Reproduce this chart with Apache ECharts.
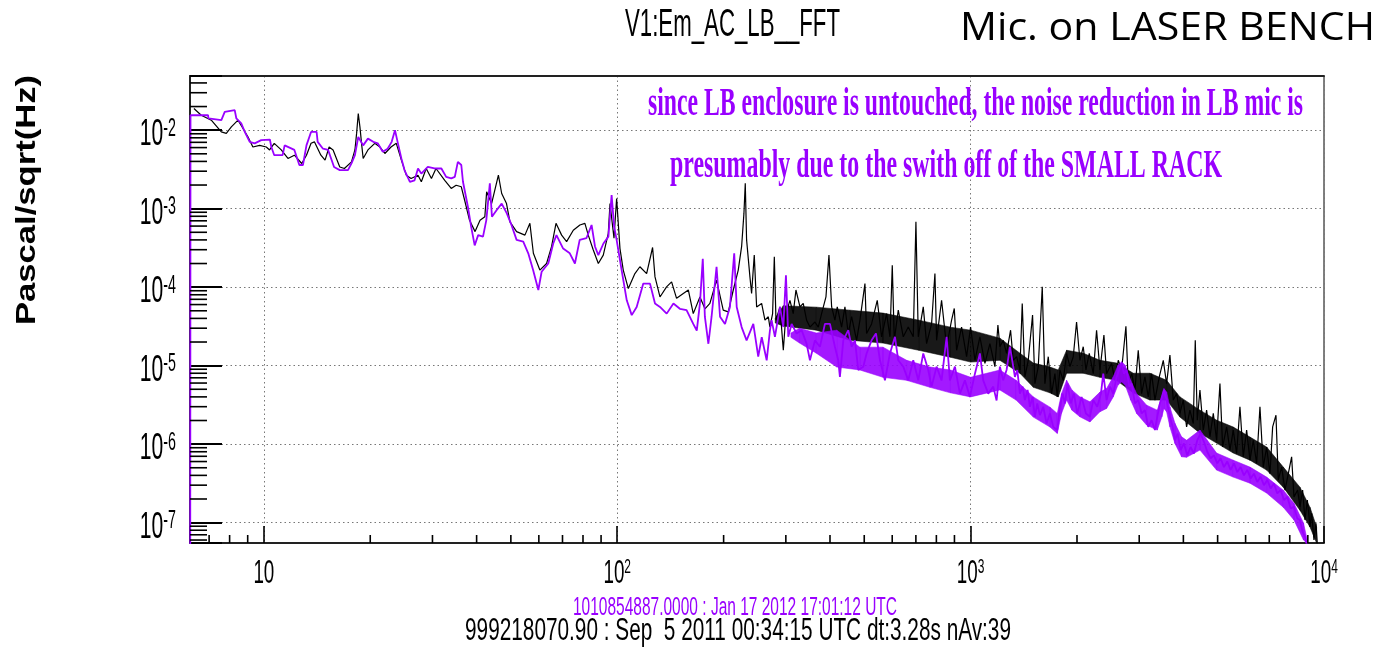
<!DOCTYPE html>
<html>
<head>
    <meta charset="utf-8"/>
    <title>V1:Em_AC_LB__FFT</title>
    <style>
        html, body { margin: 0; padding: 0; background: #fff; }
        #chart { width: 1387px; height: 652px; }
    </style>
</head>
<body>
<div id="chart"></div>
<script src="https://cdn.jsdelivr.net/npm/echarts@6/dist/echarts.min.js"></script>
<script>
    // axis ranges (Hz, Pascal/sqrt(Hz))
    var X_MIN = 6.18, X_MAX = 10000;
    var Y_MIN = 5.5e-8, Y_MAX = 4.9e-2;

    // decade labels
    var xDecades = [10, 100, 1000, 10000];
    var xDecadeExp = ['', '2', '3', '4'];
    var yDecades = [1e-7, 1e-6, 1e-5, 1e-4, 1e-3, 1e-2];
    var yDecadeExp = ['-7', '-6', '-5', '-4', '-3', '-2'];

    // ROOT style minor ticks
    var xMinorTicks = [7, 8, 9, 20, 30, 40, 50, 60, 70, 80, 90, 200, 300, 400, 500, 600, 700, 800, 900,
        2000, 3000, 4000, 5000, 6000, 7000, 8000, 9000];
    var yMinorTicks = [6e-8, 7e-8, 8e-8, 9e-8,
        2e-7, 3e-7, 4e-7, 5e-7, 6e-7, 7e-7, 8e-7, 9e-7,
        2e-6, 3e-6, 4e-6, 5e-6, 6e-6, 7e-6, 8e-6, 9e-6,
        2e-5, 3e-5, 4e-5, 5e-5, 6e-5, 7e-5, 8e-5, 9e-5,
        2e-4, 3e-4, 4e-4, 5e-4, 6e-4, 7e-4, 8e-4, 9e-4,
        2e-3, 3e-3, 4e-3, 5e-3, 6e-3, 7e-3, 8e-3, 9e-3,
        2e-2, 3e-2, 4e-2];

    // black trace: 999218070.90 (Sep 5 2011)
    var blackLow = [[6.34,1.89e-2],[6.65,1.55e-2],[7.10,1.34e-2],[7.58,9.5e-3],[7.83,9.1e-3],[8.09,1.10e-2],
        [8.45,1.34e-2],[8.73,1.05e-2],[9.02,8.2e-3],[9.31,6.1e-3],[9.73,6.4e-3],[10.16,6.1e-3],[10.38,5.6e-3],
        [10.7,6.8e-3],[11.2,5.6e-3],[11.7,4.36e-3],[12.2,4.8e-3],[12.8,3.76e-3],[13.2,4.8e-3],[13.6,6.8e-3],
        [13.9,7.1e-3],[14.5,4.8e-3],[14.9,4.15e-3],[15.3,6.1e-3],[15.7,5.6e-3],[16.4,3.4e-3],[16.9,3.25e-3],
        [17.7,3.95e-3],[18.1,5.6e-3],[18.3,9.1e-3],[18.5,1.63e-2],[18.7,1.10e-2],[18.9,6.8e-3],[19.1,4.36e-3],
        [19.7,5.6e-3],[20.6,6.8e-3],[21.3,6.1e-3],[22.0,5.05e-3],[22.9,6.1e-3],[23.7,6.8e-3],[24.5,4.15e-3],
        [25.3,2.67e-3],[26.1,2.42e-3],[27.3,2.67e-3],[27.9,2.2e-3],[28.8,3.25e-3],[29.8,2.42e-3],[30.7,3.25e-3],
        [32.5,2.3e-3],[33.9,1.81e-3],[35.0,1.99e-3],[36.2,1.9e-3],[37.0,1.28e-3],[38.2,7.1e-4]];
    var blackMid = [[39.6,5.1e-4],[40.9,7.1e-4],[42.2,7.9e-4],[42.7,1.64e-3],[44.1,1.16e-3],[46.1,2.67e-3],
        [47.1,1.56e-3],[48.6,1.16e-3],[49.7,6.8e-4],[51.9,5.1e-4],[54.8,4.6e-4],[56.6,6.5e-4],[57.9,2.7e-4],
        [60.4,1.65e-4],[63.1,2.0e-4],[65.2,3.3e-4],[67.1,6.5e-4],[69.6,4.6e-4],[71.9,3.8e-4],[75.1,5.3e-4],
        [78.4,6.2e-4],[81.0,6.5e-4],[82.8,4.6e-4],[85.5,3.0e-4],[88.4,2.0e-4],[91.3,2.56e-4],[94.3,4.8e-4],
        [95.4,1.16e-3],[97.9,4.2e-4],[99.6,1.35e-3],[101.8,3.1e-4],[104.0,1.65e-4],[107.5,9.6e-5],[112.2,1.49e-4],
        [115.9,1.82e-4],[121.1,1.49e-4],[125.9,3.2e-4],[127.9,1.35e-4],[132.1,7.5e-5],[137.9,1.01e-4],
        [142.5,1.17e-4],[147.2,7.2e-5],[153.8,8.3e-5],[158.9,9.2e-5],[164.1,4.6e-5],[171.4,7.5e-5],[177.1,5.3e-5],
        [182.9,6.2e-5],[191.0,1.23e-4],[199.5,5.1e-5],[206.2,4.85e-5],[213.0,9.2e-5],[220.0,1.65e-4],
        [224.9,3.3e-4],[228.3,8.7e-4],[230.3,2.1e-3],[232.3,4.0e-4],[237.4,1.35e-4],[240.0,8.3e-5],
        [244.2,2.56e-4],[248.0,5.6e-5],[256.2,6.2e-5],[261.8,3.8e-5],[267.6,4.2e-5]];
    var blackUpper = [[270.4,3.1e-5],[275.2,4.6e-5],[278.3,2.43e-4],[281.3,3.8e-5],[288.7,5.6e-5],[295.1,1.57e-5],
        [300.2,4.6e-5],[308.1,6.8e-5],[314.8,4.6e-5],[320.4,9.2e-5],[328.9,5.6e-5],[336.0,6.2e-5],[343.4,3.8e-5],
        [351.0,3.1e-5],[362.6,3.6e-5],[370.6,3.1e-5],[378.7,4.6e-5],[389.6,7.5e-5],[397.3,2.56e-4],[404.3,5.6e-5],
        [413.0,3.8e-5],[419.4,5.6e-5],[431.4,3.1e-5],[440.9,5.6e-5],[450.6,2.57e-5],[460.5,4.2e-5],[475.7,2.1e-5],
        [486.2,3.8e-5],[502.3,1.11e-4],[507.7,2.57e-5],[524.5,3.4e-5],[544.2,6.8e-5],[559.9,2.33e-5],
        [578.4,4.6e-5],[591.2,2.33e-5],[600.2,1.9e-4],[608.1,2.1e-5],[624.1,5.1e-5],[644.8,2.33e-5],
        [666.1,3.1e-5],[688.2,2.33e-5],[700.2,6.8e-4],[711.0,2.33e-5],[734.5,5.6e-5],[750.6,1.91e-5],
        [775.4,3.4e-5],[792.5,1.49e-4],[801.1,2.1e-5],[827.6,6.8e-5],[855.1,1.74e-5],[883.4,3.8e-5],
        [899.0,5.35e-5],[912.8,1.57e-5],[942.8,3.1e-5],[974.1,1.3e-5],[999.8,3.1e-5],[1028.5,1.17e-5],
        [1062.4,2.33e-5],[1097.7,1.07e-5],[1133.9,1.91e-5],[1171.5,9.7e-6],[1194.6,3.3e-5]];
    var blackHigh = [[1210.2,1.74e-5],[1236.8,2.1e-5],[1264.0,1.43e-5],[1297.4,2.83e-5],[1320.0,1.17e-5],
        [1349.1,1.3e-5],[1378.7,8.8e-6],[1399.8,6.2e-5],[1424.2,7.2e-6],[1455.7,1.17e-5],[1497.2,4.4e-5],
        [1520.2,5.9e-6],[1553.8,9.7e-6],[1594.8,1.01e-4],[1622.6,5.9e-6],[1658.5,1.3e-5],[1694.8,4.4e-6],
        [1731.9,7.9e-6],[1758.7,4.0e-6],[1789.3,8.8e-6],[1828.5,6.5e-6],[1868.9,1.43e-5],[1909.9,9.7e-6],
        [1951.7,1.3e-5],[1994.4,3.6e-5],[2038.5,1.17e-5],[2083.1,1.74e-5],[2119.9,8.8e-6],[2166.3,1.43e-5],
        [2223.4,7.9e-6],[2272.1,2.83e-5],[2322.3,8.8e-6],[2383.5,2.45e-5],[2425.1,7.9e-6],[2505.7,1.07e-5],
        [2560.7,6.5e-6],[2616.7,1.17e-5],[2674.6,8.8e-6],[2750.8,3.18e-5],[2793.0,5.9e-6],[2854.7,7.9e-6],
        [2917.2,4.9e-6],[2981.0,1.57e-5],[3046.9,4.4e-6],[3113.6,7.2e-6],[3181.7,4.0e-6],[3252.1,7.9e-6],
        [3323.3,3.64e-6],[3418.8,7.2e-6],[3508.9,1.17e-5],[3585.7,5.9e-6],[3664.2,1.36e-5],[3745.2,3.64e-6],
        [3827.1,4.4e-6],[3910.8,2.46e-6],[3997.3,3.64e-6],[4084.8,1.66e-6],[4174.2,2.71e-6],[4266.5,1.83e-6],
        [4322.2,2.1e-5],[4379.3,2.02e-6],[4455.6,4.9e-6],[4554.1,1.51e-6],[4653.8,2.71e-6],[4755.8,1.24e-6],
        [4860.9,2.46e-6],[4967.3,1.12e-6],[5076.1,5.9e-6],[5165.8,9.2e-7],[5302.0,1.66e-6],[5418.1,8.4e-7],
        [5536.7,1.51e-6],[5659.1,7.6e-7],[5782.9,2.99e-6],[5909.5,6.9e-7],[6040.2,1.51e-6],[6172.4,6.25e-7],
        [6307.5,1.12e-6],[6447.0,5.7e-7],[6588.2,2.99e-6],[6732.4,5.1e-7],[6881.3,9.2e-7],[7032.0,4.2e-7],
        [7156.1,1.66e-6],[7312.7,2.34e-6],[7424.7,3.5e-7],[7587.2,5.1e-7],[7755.0,2.6e-7],[7924.7,4.2e-7],
        [8098.2,6.9e-7],[8222.2,2.13e-7],[8421.5,2.6e-7],[8550.5,1.59e-7],[8699.4,2.6e-7],[8834.7,1.08e-7],
        [8969.9,1.94e-7],[9126.3,8.9e-8],[9225.6,1.31e-7],[9366.8,6.0e-8],[9490.5,9.8e-8],[9572.0,5.4e-8]];
    // dense noise band of the black trace: [Hz, upper edge, lower edge]
    var blackBand = [[280,4.0e-5,3.5e-5],[295,5.8e-5,3.2e-5],[366,5.56e-5,2.83e-5],[455,5.09e-5,2.11e-5],
        [565,4.67e-5,1.94e-5],[713,3.8e-5,1.57e-5],[877,3.09e-5,1.28e-5],[1000,2.83e-5,1.11e-5],
        [1210,2.24e-5,1.17e-5],[1379,1.44e-5,8.0e-6],[1505,1.08e-5,5.3e-6],[1677,9.6e-6,4.5e-6],
        [1770,8.8e-6,4.0e-6],[1869,1.57e-5,8.0e-6],[2083,1.44e-5,8.0e-6],[2322,1.17e-5,7.1e-6],
        [2588,1.08e-5,6.5e-6],[2886,8.0e-6,4.5e-6],[3217,8.0e-6,3.64e-6],[3586,6.5e-6,3.64e-6],
        [3911,4.0e-6,2.21e-6],[4456,2.71e-6,1.38e-6],[4967,2.02e-6,1.03e-6],[5537,1.65e-6,7.7e-7],
        [6172,1.23e-6,6.25e-7],[6881,9.2e-7,4.67e-7],[7670,5.1e-7,2.83e-7],[8550,2.83e-7,1.44e-7],
        [9126,1.57e-7,8.8e-8],[9530,8.8e-8,5.5e-8]];

    // purple trace: 1010854887.0000 (Jan 17 2012)
    var purpleLow = [[6.19,4e-8],[6.2,1.55e-2],[6.95,1.55e-2],[6.97,1.41e-2],[7.58,1.34e-2],[7.75,1.71e-2],
        [8.27,1.80e-2],[8.36,1.41e-2],[8.63,1.22e-2],[8.83,9.5e-3],[9.12,7.1e-3],[9.42,6.8e-3],[9.83,7.46e-3],
        [10.4,7.6e-3],[10.5,6.1e-3],[10.7,4.8e-3],[11.3,4.8e-3],[11.45,6.4e-3],[12.2,5.6e-3],[12.6,3.6e-3],
        [12.9,3.6e-3],[13.2,6.4e-3],[13.6,9.5e-3],[14.1,9.5e-3],[14.2,7.1e-3],[14.7,5.8e-3],[15.2,5.6e-3],
        [15.8,3.4e-3],[16.4,3.1e-3],[17.3,3.1e-3],[17.7,3.77e-3],[18.1,4.8e-3],[18.5,8.2e-3],[19.1,6.4e-3],
        [19.7,7.8e-3],[20.4,7.1e-3],[21.0,6.8e-3],[21.7,5.3e-3],[22.4,5.8e-3],[23.0,7.1e-3],[23.5,1.0e-2],
        [23.9,7.1e-3],[24.5,4.36e-3],[25.0,3.1e-3],[25.9,2.2e-3],[26.7,2.3e-3],[27.3,3.25e-3],[27.9,2.8e-3],
        [29.1,3.4e-3],[30.4,3.25e-3],[31.8,3.25e-3],[32.8,2.54e-3],[33.9,2.43e-3],[34.7,2.54e-3],[35.4,3.95e-3],
        [36.2,3.6e-3],[36.6,2.2e-3],[37.8,1.05e-3],[38.6,5.9e-4],[39.5,3.4e-4],[40.4,4.6e-4],[41.7,4.4e-4],
        [42.6,7.1e-4]];
    var purpleMid = [[43.6,2.1e-3],[44.2,7.9e-4],[45.6,9.6e-4],[47.1,1.16e-3],[48.7,8.7e-4],[50.2,6.2e-4],
        [51.9,4.0e-4],[54.2,3.8e-4],[56.0,2.7e-4],[57.8,1.65e-4],[59.8,9.2e-5],[61.1,1.57e-4],[63.8,2.0e-4],
        [65.9,3.6e-4],[67.3,4.6e-4],[70.3,3.1e-4],[73.4,2.7e-4],[75.9,2.0e-4],[78.3,4.0e-4],[81.8,4.2e-4],
        [84.6,6.2e-4],[86.5,3.3e-4],[88.4,2.56e-4],[91.4,3.6e-4],[94.4,4.4e-4],[96.4,1.49e-3],[98.0,5.9e-4],
        [99.6,4.0e-4],[102.9,1.65e-4],[106.4,6.8e-5],[109.9,4.4e-5],[113.5,5.6e-5],[118.5,1.11e-4],
        [123.8,1.11e-4],[127.9,6.2e-5],[132.1,5.6e-5],[138.0,4.6e-5],[144.2,6.2e-5],[150.4,5.3e-5],
        [157.1,5.1e-5],[164.1,3.4e-5],[167.9,2.8e-5],[171.4,6.2e-5],[174.6,2.3e-4],[177.0,4.2e-5],[181.1,1.9e-5],
        [184.9,4.2e-5],[191.0,1.82e-4],[195.4,4.2e-5],[201.8,3.4e-5],[208.4,5.6e-5],[214.3,2.7e-4],[217.8,5.6e-5],
        [224.9,3.1e-5],[232.3,2.1e-5],[242.7,3.4e-5],[250.6,1.3e-5],[256.4,2.3e-5],[264.8,1.17e-5],[270.4,2.8e-5]];
    var purpleUpper = [[273.4,3.8e-5],[279.4,2.33e-5],[288.7,5.6e-5],[295.1,3.1e-5],[300.2,1.42e-4],
        [304.8,2.33e-5],[311.5,3.4e-5],[321.8,2.57e-5],[332.5,2.83e-5],[343.4,1.91e-5],[351.0,1.17e-5],
        [362.6,2.1e-5],[374.6,1.74e-5],[387.0,3.4e-5],[399.9,3.4e-5],[413.0,1.74e-5],[422.1,1.17e-5],
        [426.7,7.2e-6],[436.2,2.1e-5],[450.6,2.83e-5],[460.5,1.74e-5],[470.6,2.1e-5],[481.0,8.8e-6],
        [496.9,9.7e-6],[507.7,1.43e-5],[524.5,2.1e-5],[539.7,2.57e-5],[554.0,1.17e-5],[572.2,6.5e-6],
        [591.2,1.43e-5],[610.8,2.33e-5],[624.1,1.17e-5],[644.8,9.7e-6],[666.1,6.5e-6],[688.2,1.17e-5],
        [711.0,6.5e-6],[734.5,1.43e-5],[758.8,8.8e-6],[775.4,5.4e-6],[801.1,9.7e-6],[827.6,6.5e-6],
        [855.1,2.33e-5],[873.8,6.5e-6],[902.8,9.7e-6],[932.6,4.4e-6],[963.6,6.5e-6],[995.4,4.0e-6],
        [1028.5,7.9e-6],[1062.4,1.43e-5],[1085.6,6.5e-6],[1121.6,4.4e-6],[1158.8,5.4e-6],[1184.4,3.6e-6]];
    var purpleHigh = [[1210.2,9.7e-6],[1236.8,6.5e-6],[1264.0,8.8e-6],[1291.7,1.74e-5],[1306.1,1.3e-5],
        [1334.5,7.2e-6],[1355.3,8.8e-6],[1378.7,4.4e-6],[1402.8,5.4e-6],[1424.2,3.64e-6],[1449.4,4.9e-6],
        [1471.6,2.99e-6],[1497.2,4.0e-6],[1520.2,2.23e-6],[1543.4,3.3e-6],[1570.6,2.34e-6],[1605.0,2.99e-6],
        [1640.6,1.83e-6],[1676.5,2.46e-6],[1713.2,1.66e-6],[1758.7,1.51e-6],[1789.3,2.99e-6],[1820.6,4.4e-6],
        [1848.5,3.3e-6],[1881.3,5.9e-6],[1918.5,3.3e-6],[1960.6,4.4e-6],[2003.4,2.46e-6],[2060.8,4.0e-6],
        [2119.9,2.46e-6],[2175.8,2.23e-6],[2223.4,3.64e-6],[2282.1,2.99e-6],[2337.6,4.4e-6],[2373.3,7.9e-6],
        [2425.1,3.64e-6],[2479.5,5.4e-6],[2533.5,4.4e-6],[2588.5,7.2e-6],[2634.7,8.8e-6],[2674.6,1.07e-5],
        [2716.0,7.9e-6],[2762.6,8.8e-6],[2811.6,5.4e-6],[2854.7,5.9e-6],[2917.2,3.3e-6],[2981.0,3.64e-6],
        [3046.9,2.46e-6],[3113.6,2.71e-6],[3181.7,1.66e-6],[3252.1,2.02e-6],[3323.3,1.51e-6],[3374.3,2.23e-6],
        [3433.1,3.3e-6],[3523.7,4.9e-6],[3585.7,3.64e-6],[3664.2,2.23e-6],[3728.9,1.66e-6],[3786.0,1.12e-6],
        [3852.1,1.36e-6],[3928.2,8.4e-7],[4014.7,1.02e-6],[4102.5,7.2e-7],[4192.3,9.2e-7],[4284.0,7.6e-7],
        [4379.3,1.12e-6],[4475.2,1.36e-6],[4574.2,1.07e-6],[4674.3,8.0e-7],[4776.6,6.6e-7],[4881.2,7.2e-7],
        [4989.0,5.7e-7],[5098.4,6.6e-7],[5210.0,5.1e-7],[5325.2,6.0e-7],[5441.8,4.7e-7],[5560.8,5.7e-7],
        [5683.8,4.4e-7],[5808.2,5.1e-7],[5935.4,4.0e-7],[6065.3,4.7e-7],[6199.4,3.66e-7],[6335.1,4.2e-7],
        [6473.8,3.3e-7],[6617.0,3.84e-7],[6761.9,3.0e-7],[6910.0,3.5e-7],[7062.8,2.72e-7],[7217.4,3.15e-7],
        [7375.4,2.35e-7],[7538.5,2.6e-7],[7703.5,1.94e-7],[7872.2,2.13e-7],[8046.3,1.52e-7],[8222.2,1.59e-7],
        [8403.2,1.13e-7],[8550.5,1.08e-7],[8699.4,7.6e-8],[8834.7,6.6e-8],[8928.6,5.4e-8]];
    // dense noise band of the purple trace: [Hz, upper edge, lower edge]
    var purpleBand = [[310,2.6e-5,2.3e-5],[328,3.0e-5,1.94e-5],[366,2.6e-5,1.44e-5],[418,2.83e-5,9.6e-6],
        [486,1.72e-5,8.8e-6],[565,1.72e-5,7.1e-6],[659,1.17e-5,6.5e-6],[767,9.6e-6,5.3e-6],[877,8.8e-6,4.5e-6],
        [1000,7.1e-6,4.0e-6],[1210,8.8e-6,4.9e-6],[1345,6.5e-6,3.64e-6],[1505,4.0e-6,2.21e-6],
        [1677,2.96e-6,1.65e-6],[1759,2.46e-6,1.37e-6],[1808,4.4e-6,2.46e-6],[1869,6.5e-6,3.64e-6],
        [1935,4.9e-6,2.71e-6],[2038,4.0e-6,2.23e-6],[2176,3.46e-6,1.92e-6],[2322,4.6e-6,2.58e-6],
        [2425,5.1e-6,2.85e-6],[2533,7.2e-6,4.0e-6],[2612,1.01e-5,5.65e-6],[2675,1.12e-5,6.2e-6],
        [2738,1.01e-5,5.65e-6],[2837,6.5e-6,3.64e-6],[2950,4.4e-6,2.46e-6],[3147,3.14e-6,1.75e-6],
        [3374,2.71e-6,1.51e-6],[3477,4.0e-6,2.23e-6],[3524,5.1e-6,2.85e-6],[3586,4.6e-6,2.58e-6],
        [3664,2.98e-6,1.66e-6],[3786,1.84e-6,1.02e-6],[3953,1.24e-6,6.9e-7],[4085,1.12e-6,6.8e-7],
        [4456,1.51e-6,8.4e-7],[4967,7.7e-7,4.67e-7],[5537,6.25e-7,3.8e-7],[6172,5.1e-7,3.18e-7],
        [6881,3.8e-7,2.38e-7],[7670,2.59e-7,1.57e-7],[8222,1.77e-7,1.08e-7],[8750,9.9e-8,6.0e-8],
        [8929,6.5e-8,5.5e-8]];

    var BLACK = '#000000';
    var PURPLE = '#9900ff';
    var SANS = '"Liberation Sans", Arial, sans-serif';

    var chart = echarts.init(document.getElementById('chart'));

    // scale a text horizontally so it fills the width seen in the picture
    var measureCtx = document.createElement('canvas').getContext('2d');
    function textItem(text, x, y, width, font, color, align, rotation) {
        measureCtx.font = font;
        var w = measureCtx.measureText(text).width;
        return {
            type: 'text', x: x, y: y, z: 100, silent: true,
            rotation: rotation || 0,
            scaleX: width / w,
            style: {
                text: text, font: font, fill: color,
                align: align || 'left', verticalAlign: 'middle',
                textAlign: align || 'left', textVerticalAlign: 'middle'
            }
        };
    }

    function tickSeries(data, horizontal, len) {
        return {
            type: 'custom', silent: true, clip: false, z: 4,
            data: data,
            renderItem: function (params, api) {
                var p = api.coord([api.value(0), api.value(1)]);
                var shape = horizontal
                    ? {x1: p[0], y1: p[1], x2: p[0] + len, y2: p[1]}
                    : {x1: p[0], y1: p[1], x2: p[0], y2: p[1] - len};
                return {type: 'line', shape: shape, style: {stroke: '#000', lineWidth: 1.6}};
            }
        };
    }

    // filled strip between the upper and lower edge of a noise band
    function bandSeries(band, color, z) {
        return {
            type: 'custom', silent: true, clip: true, z: z,
            data: band,
            renderItem: function (params, api) {
                var i = params.dataIndex;
                if (i >= band.length - 1) return null;
                var a = band[i], b = band[i + 1];
                var pts = [api.coord([a[0], a[1]]), api.coord([b[0], b[1]]),
                    api.coord([b[0], b[2]]), api.coord([a[0], a[2]])];
                return {type: 'polygon', shape: {points: pts},
                    style: {fill: color, stroke: color, lineWidth: 0.6, opacity: 0.9}};
            }
        };
    }

    var baseGraphic = [
        textItem('V1:Em_AC_LB__FFT', 625, 26, 215, '38px ' + SANS, '#000'),
        textItem('Mic. on LASER BENCH', 960, 29, 415, '39px "Open Sans"', '#000'),
        textItem('since LB enclosure is untouched, the noise reduction in LB mic is', 648, 105, 655,
            'bold 40px "Liberation Serif"', PURPLE),
        textItem('presumably due to the swith off of the SMALL RACK', 670, 167, 552,
            'bold 39px "Liberation Serif"', PURPLE),
        textItem('Pascal/sqrt(Hz)', 27, 200, 250, 'bold 28px ' + SANS, '#000', 'center', Math.PI / 2),
        textItem('1010854887.0000 : Jan 17 2012 17:01:12 UTC', 573, 608, 324, '25px ' + SANS, PURPLE),
        textItem('999218070.90 : Sep  5 2011 00:34:15 UTC dt:3.28s nAv:39', 465, 631, 546,
            '31px ' + SANS, '#000')
    ];

    var option = {
        animation: false,
        backgroundColor: '#fff',
        grid: {left: 190, right: 63, top: 76, bottom: 109, show: true, borderColor: '#000', borderWidth: 1},
        xAxis: [{
            type: 'log', logBase: 10, min: X_MIN, max: X_MAX,
            axisLine: {show: true, onZero: false, lineStyle: {color: '#222', width: 2}},
            axisTick: {show: true, inside: true, length: 17, lineStyle: {color: '#000', width: 1.6}},
            axisLabel: {show: false},
            splitLine: {show: true, lineStyle: {color: '#777', width: 1, type: [1.5, 3]}}
        }, {
            type: 'log', logBase: 10, min: X_MIN, max: X_MAX, position: 'top',
            axisLine: {show: true, onZero: false, lineStyle: {color: '#222', width: 2}},
            axisTick: {show: false}, axisLabel: {show: false}, splitLine: {show: false}
        }],
        yAxis: {
            type: 'log', logBase: 10, min: Y_MIN, max: Y_MAX,
            axisLine: {show: true, onZero: false, lineStyle: {color: '#222', width: 2}},
            axisTick: {show: true, inside: true, length: 32, lineStyle: {color: '#000', width: 2}},
            axisLabel: {show: false},
            splitLine: {show: true, lineStyle: {color: '#777', width: 1, type: [1.5, 3]}}
        },
        series: [
            bandSeries(blackBand, BLACK, 1),
            {
                name: '999218070.90', type: 'line', showSymbol: false, z: 2,
                data: blackLow.concat(blackMid, blackUpper, blackHigh),
                lineStyle: {color: BLACK, width: 1.2}
            },
            bandSeries(purpleBand, PURPLE, 3),
            {
                name: '1010854887.0000', type: 'line', showSymbol: false, z: 3,
                data: purpleLow.concat(purpleMid, purpleUpper, purpleHigh),
                lineStyle: {color: PURPLE, width: 1.8}
            },
            tickSeries(yMinorTicks.map(function (v) { return [X_MIN, v]; }), true, 17),
            tickSeries(xMinorTicks.map(function (v) { return [v, Y_MIN]; }), false, 8)
        ],
        graphic: baseGraphic
    };
    chart.setOption(option);

    // decade labels in the narrow ROOT face, placed with the axis scales
    var labelRich = {
        b: {fontSize: 37, fontFamily: SANS, fill: '#000', lineHeight: 38},
        s: {fontSize: 25, fontFamily: SANS, fill: '#000', lineHeight: 25, verticalAlign: 'top'}
    };
    var xRich = {
        b: {fontSize: 33, fontFamily: SANS, fill: '#000', lineHeight: 34},
        s: {fontSize: 21, fontFamily: SANS, fill: '#000', lineHeight: 21, verticalAlign: 'top'}
    };
    var labels = [];
    yDecades.forEach(function (v, i) {
        var py = chart.convertToPixel({yAxisIndex: 0}, v);
        labels.push({
            type: 'text', x: 176, y: py + 5, scaleX: 0.57, z: 100, silent: true,
            style: {text: '{b|10}{s|' + yDecadeExp[i] + '}', rich: labelRich,
                align: 'right', verticalAlign: 'middle', textAlign: 'right', textVerticalAlign: 'middle'}
        });
    });
    xDecades.forEach(function (v, i) {
        var px = chart.convertToPixel({xAxisIndex: 0}, v);
        var txt = xDecadeExp[i] ? '{b|10}{s|' + xDecadeExp[i] + '}' : '{b|10}';
        labels.push({
            type: 'text', x: px, y: 574, scaleX: 0.57, z: 100, silent: true,
            style: {text: txt, rich: xRich,
                align: 'center', verticalAlign: 'middle', textAlign: 'center', textVerticalAlign: 'middle'}
        });
    });
    chart.setOption({graphic: baseGraphic.concat(labels)}, {replaceMerge: ['graphic']});

    window.onresize = function () {
        chart.resize();
    };
</script>
</body>
</html>
